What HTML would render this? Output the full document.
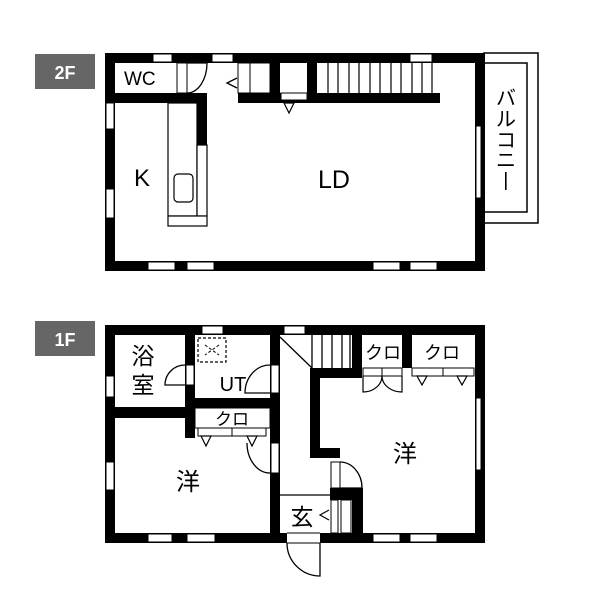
<!DOCTYPE html>
<html><head><meta charset="utf-8"><style>
html,body{margin:0;padding:0;background:#fff;width:600px;height:600px;overflow:hidden}
svg{display:block}
text{font-family:"Liberation Sans","Noto Sans CJK JP",sans-serif;fill:#000}
</style></head><body>
<svg width="600" height="600" viewBox="0 0 600 600">
<rect x="35" y="54" width="60" height="35" fill="#666"/>
<text x="65" y="79" font-size="18" font-weight="bold" text-anchor="middle" style="fill:#fff">2F</text>
<rect x="35" y="321" width="60" height="35" fill="#666"/>
<text x="65" y="346" font-size="18" font-weight="bold" text-anchor="middle" style="fill:#fff">1F</text>

<!-- ===== 2F ===== -->
<rect x="484" y="53" width="54" height="170" fill="#fff" stroke="#000" stroke-width="1.5"/>
<rect x="484" y="63" width="43" height="149" fill="#fff" stroke="#000" stroke-width="1.5"/>
<text x="506" y="105" font-size="20" text-anchor="middle">バ</text>
<text x="506" y="126" font-size="20" text-anchor="middle">ル</text>
<text x="506" y="147" font-size="20" text-anchor="middle">コ</text>
<text x="506" y="167" font-size="20" text-anchor="middle">ニ</text>
<rect x="505" y="172" width="1.6" height="18" fill="#000"/>
<path d="M105 53H485V271H105Z M115 63V261H475V63Z" fill="#000" fill-rule="evenodd"/>
<g fill="#fff" stroke="#000" stroke-width="1">
<rect x="153" y="54" width="19" height="8"/><rect x="212" y="54" width="21" height="8"/><rect x="410" y="54" width="22" height="8"/>
<rect x="148" y="262" width="27" height="8"/><rect x="187" y="262" width="27" height="8"/><rect x="373" y="262" width="27" height="8"/><rect x="410" y="262" width="27" height="8"/>
<rect x="106" y="103" width="8" height="26"/><rect x="106" y="189" width="8" height="29"/>
<rect x="476" y="126" width="5" height="72"/>
</g>
<rect x="115" y="93" width="92" height="10" fill="#000"/>
<rect x="197" y="93" width="10" height="52" fill="#000"/>
<rect x="177" y="63" width="10" height="30" fill="#fff" stroke="#000" stroke-width="1"/>
<path d="M187 63H207 A20 30 0 0 1 187 93" fill="none" stroke="#000" stroke-width="1.3"/>
<text x="124" y="85" font-size="19">WC</text>
<rect x="168" y="103" width="29" height="113" fill="#fff" stroke="#000" stroke-width="1.2"/>
<rect x="197" y="145" width="10" height="71" fill="#fff" stroke="#000" stroke-width="1.2"/>
<rect x="168" y="216" width="39" height="10" fill="#fff" stroke="#000" stroke-width="1.2"/>
<rect x="174" y="174" width="19" height="28" rx="4" fill="#fff" stroke="#000" stroke-width="1.2"/>
<text x="142" y="186" font-size="24" text-anchor="middle">K</text>
<text x="334" y="188" font-size="25" text-anchor="middle">LD</text>
<rect x="238" y="93" width="202" height="10" fill="#000"/>
<rect x="238" y="63" width="12" height="30" fill="#fff" stroke="#000" stroke-width="1"/>
<rect x="250" y="63" width="20" height="30" fill="#fff" stroke="#000" stroke-width="1"/>
<rect x="270" y="63" width="10" height="30" fill="#000"/>
<rect x="307" y="63" width="10" height="30" fill="#000"/>
<rect x="281" y="93" width="26" height="7" fill="#fff" stroke="#000" stroke-width="1"/>
<path d="M237 78L227 83L237 88" fill="none" stroke="#000" stroke-width="1.3"/>
<path d="M284 103L294 103L289 113Z" fill="#fff" stroke="#000" stroke-width="1.2"/>
<g stroke="#000" stroke-width="1.2">
<path d="M328 63V93M338 63V93M349 63V93M359 63V93M370 63V93M380 63V93M391 63V93M401 63V93M412 63V93M422 63V93M432 63V93"/>
</g>

<!-- ===== 1F ===== -->
<path d="M105 325H485V543H105Z M115 335V533H475V335Z" fill="#000" fill-rule="evenodd"/>
<g fill="#fff" stroke="#000" stroke-width="1">
<rect x="202" y="326" width="21" height="8"/><rect x="284" y="326" width="21" height="8"/>
<rect x="148" y="534" width="24" height="8"/><rect x="187" y="534" width="28" height="8"/><rect x="373" y="534" width="27" height="8"/><rect x="410" y="534" width="27" height="8"/>
<rect x="106" y="376" width="8" height="21"/><rect x="106" y="462" width="8" height="28"/>
<rect x="476" y="398" width="5" height="72"/>
</g>
<rect x="287" y="533" width="33" height="10" fill="#fff"/>
<path d="M287 533H320M287 543H320" stroke="#000" stroke-width="1"/>
<path d="M320 543V576 A33 33 0 0 1 287 543" fill="none" stroke="#000" stroke-width="1.3"/>
<rect x="270" y="325" width="10" height="218" fill="#000"/>
<rect x="185" y="325" width="10" height="113" fill="#000"/>
<rect x="105" y="407" width="90" height="11" fill="#000"/>
<rect x="185" y="398" width="95" height="10" fill="#000"/>
<rect x="186" y="365" width="8" height="20" fill="#fff" stroke="#000" stroke-width="1"/>
<path d="M185 365 A20 20 0 0 0 165 385H185" fill="none" stroke="#000" stroke-width="1.3"/>
<rect x="271" y="365" width="8" height="28" fill="#fff" stroke="#000" stroke-width="1"/>
<path d="M270 365 A25 28 0 0 0 245 393H270" fill="none" stroke="#000" stroke-width="1.3"/>
<rect x="198" y="338" width="28" height="24" fill="none" stroke="#000" stroke-width="1.2" stroke-dasharray="3,2"/>
<path d="M205 345L219 355M219 345L205 355" stroke="#000" stroke-width="1" stroke-dasharray="3,2"/>
<text x="143" y="364" font-size="23" text-anchor="middle">浴</text>
<text x="143" y="393" font-size="23" text-anchor="middle">室</text>
<text x="233" y="391" font-size="20" text-anchor="middle">UT</text>
<rect x="195" y="408" width="75" height="20" fill="#fff" stroke="#000" stroke-width="1"/>
<text x="232" y="425" font-size="17" text-anchor="middle">クロ</text>
<rect x="198" y="428" width="34" height="8" fill="#fff" stroke="#000" stroke-width="1"/>
<rect x="232" y="428" width="34" height="8" fill="#fff" stroke="#000" stroke-width="1"/>
<path d="M201 436L211 436L206 446Z M247 436L257 436L252 446Z" fill="#fff" stroke="#000" stroke-width="1.2"/>
<rect x="271" y="443" width="8" height="30" fill="#fff" stroke="#000" stroke-width="1"/>
<path d="M247 443 A23 30 0 0 0 270 473" fill="none" stroke="#000" stroke-width="1.3"/>
<text x="188" y="490" font-size="24" text-anchor="middle">洋</text>
<path d="M280 337L312 368" stroke="#000" stroke-width="1.3"/>
<path d="M312 368V335M322 335V368M332 335V368M342 335V368M350 335V368" stroke="#000" stroke-width="1.3"/>
<rect x="352" y="325" width="10" height="53" fill="#000"/>
<rect x="310" y="368" width="52" height="10" fill="#000"/>
<rect x="310" y="368" width="10" height="90" fill="#000"/>
<rect x="310" y="448" width="30" height="10" fill="#000"/>
<rect x="331" y="462" width="9" height="26" fill="#fff" stroke="#000" stroke-width="1"/>
<path d="M340 462 A22 26 0 0 1 362 488H340" fill="none" stroke="#000" stroke-width="1.3"/>
<rect x="330" y="488" width="33" height="12" fill="#000"/>
<rect x="352" y="488" width="11" height="55" fill="#000"/>
<rect x="331" y="500" width="7" height="33" fill="#fff" stroke="#000" stroke-width="1"/>
<rect x="341" y="500" width="10" height="33" fill="#fff" stroke="#000" stroke-width="1"/>
<path d="M280 495H330" stroke="#000" stroke-width="1.3"/>
<path d="M329 510L320 515L329 520" fill="none" stroke="#000" stroke-width="1.2"/>
<text x="302" y="525" font-size="23" text-anchor="middle">玄</text>
<rect x="402" y="335" width="10" height="33" fill="#000"/>
<text x="383" y="359" font-size="18" text-anchor="middle">クロ</text>
<text x="442" y="359" font-size="18" text-anchor="middle">クロ</text>
<rect x="363" y="368" width="19" height="8" fill="#fff" stroke="#000" stroke-width="1"/>
<rect x="382" y="368" width="20" height="8" fill="#fff" stroke="#000" stroke-width="1"/>
<path d="M363 376V392 A19 16 0 0 0 382 376 M402 376V392 A20 16 0 0 1 382 376" fill="none" stroke="#000" stroke-width="1.2"/>
<rect x="412" y="368" width="31" height="8" fill="#fff" stroke="#000" stroke-width="1"/>
<rect x="443" y="368" width="31" height="8" fill="#fff" stroke="#000" stroke-width="1"/>
<path d="M417 376L427 376L422 385Z M457 376L467 376L462 385Z" fill="#fff" stroke="#000" stroke-width="1.2"/>
<text x="405" y="462" font-size="24" text-anchor="middle">洋</text>
</svg>
</body></html>
